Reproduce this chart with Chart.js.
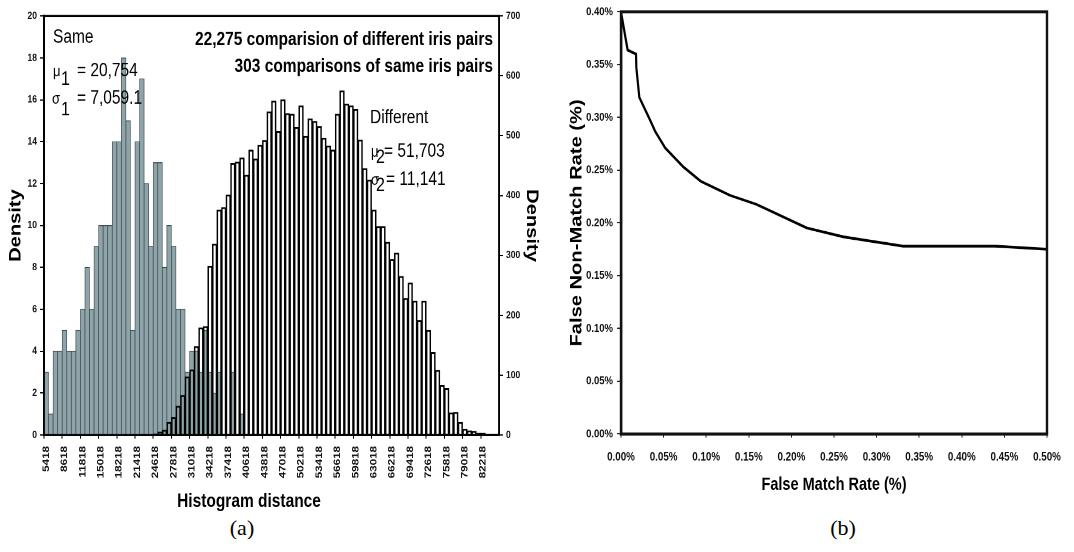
<!DOCTYPE html>
<html>
<head>
<meta charset="utf-8">
<script src="https://cdn.jsdelivr.net/npm/chart.js@4.4.0/dist/chart.umd.min.js"></script>
<style>
  body { margin: 0; background: #fff; width: 1074px; height: 552px; position: relative; overflow: hidden; }
  /* the original figure is a bitmap stretched vertically, so both charts are too */
  .stretch { position: absolute; top: 0; transform-origin: 0 0; transform: scaleY(1.22); }
  .caption { position: absolute; top: 515px; font-family: 'Liberation Serif', 'DejaVu Serif', serif; font-size: 22px; transform: translateX(-50%); }
</style>
</head>
<body>
<div class="stretch" style="left:0"><canvas id="histo" width="540" height="422"></canvas></div>
<div class="stretch" style="left:540px"><canvas id="roc" width="534" height="422"></canvas></div>
<div class="caption" style="left:242px">(a)</div>
<div class="caption" style="left:843px">(b)</div>
<script>
//FONTS AND VERTICAL STRETCH
const SANS = "'Liberation Sans', Arial, sans-serif";
const K = 1.22;
const u = (v) => v / K;

//HISTOGRAM BINS (distance, bin of 800)
const binStart = 5418;
const binWidth = 800;
const binCount = 100;

//SAME IRIS PAIRS (left axis)
const sameCounts = [
  3, 1, 4, 4, 5, 4, 4, 5, 6, 8,
  6, 9, 10, 10, 10, 14, 14, 18, 15, 5,
  14, 17, 12, 9, 13, 13, 8, 10, 9, 6,
  6, 3, 4, 4, 3, 5, 3, 2, 3, 0,
  0, 3, 0, 1, 0, 0, 0, 0, 0, 0,
  0, 0, 0, 0, 0, 0, 0, 0, 0, 0,
  0, 0, 0, 0, 0, 0, 0, 0, 0, 0,
  0, 0, 0, 0, 0, 0, 0, 0, 0, 0,
  0, 0, 0, 0, 0, 0, 0, 0, 0, 0,
  0, 0, 0, 0, 0, 0, 0, 0, 0, 0
];

//DIFFERENT IRIS PAIRS (right axis)
const differentCounts = [
  0, 0, 0, 0, 0, 0, 0, 0, 0, 0,
  0, 0, 0, 0, 0, 0, 0, 0, 0, 0,
  0, 0, 0, 0, 2, 5, 8, 21, 29, 48,
  66, 97, 109, 148, 179, 181, 282, 319, 376, 380,
  401, 454, 456, 463, 434, 476, 461, 484, 492, 540,
  558, 507, 560, 537, 536, 514, 550, 499, 528, 524,
  515, 496, 483, 476, 536, 575, 553, 550, 544, 493,
  445, 426, 376, 348, 348, 322, 293, 304, 265, 228,
  254, 224, 191, 224, 175, 138, 108, 83, 78, 37,
  38, 21, 10, 7, 6, 3, 3, 1, 0, 0
];

//ROC CURVE (%)
const fmrValues = [0, 0.0078, 0.0176, 0.018, 0.0215, 0.0344, 0.0402, 0.052, 0.0734, 0.0938, 0.128, 0.159, 0.218, 0.261, 0.331, 0.439, 0.50];
const fnmrValues = [0.400, 0.3638, 0.360, 0.3474, 0.319, 0.297, 0.2866, 0.2709, 0.2529, 0.2394, 0.2261, 0.2176, 0.1953, 0.1868, 0.178, 0.178, 0.1751];

const distLabels = [];
for (let i = 0; i < binCount; i++) distLabels.push(String(binStart + i * binWidth));

//BOX AROUND THE PLOT AREA
const framePlugin = {
  id: 'frame',
  afterDraw(chart, args, opts) {
    const { ctx, chartArea: a } = chart;
    ctx.save();
    ctx.strokeStyle = opts.color || '#000';
    ctx.lineWidth = opts.width || 2;
    ctx.strokeRect(a.left, a.top, a.right - a.left, a.bottom - a.top);
    ctx.restore();
  }
};

//SYMBOL WITH SUBSCRIPT, THEN THE VALUE
function drawStat(ctx, x, y, sym, sub, rest, subDx, subDy, restDx) {
  ctx.font = '13px ' + SANS;
  ctx.fillText(sym, x, y);
  ctx.font = '16px ' + SANS;
  ctx.fillText(sub, x + subDx, y + u(subDy));
  ctx.font = '15.5px ' + SANS;
  ctx.fillText(rest, x + restDx, y);
}

//TEXTS INSIDE THE HISTOGRAM
const notesPlugin = {
  id: 'notes',
  afterDatasetsDraw(chart) {
    const ctx = chart.ctx;
    const a = chart.chartArea;
    ctx.save();
    ctx.fillStyle = '#000';
    ctx.textBaseline = 'alphabetic';
    ctx.textAlign = 'left';
    ctx.font = '15.5px ' + SANS;
    ctx.fillText('Same', a.left + 9, a.top + u(27));
    drawStat(ctx, a.left + 9, a.top + u(60), 'μ', '1', '= 20,754', 8, 9, 24);
    drawStat(ctx, a.left + 8, a.top + u(88), 'σ', '1', '= 7,059.1', 9, 11, 25);
    ctx.font = '15.5px ' + SANS;
    ctx.fillText('Different', a.left + 326, a.top + u(107));
    drawStat(ctx, a.left + 327, a.top + u(141), 'μ', '2', '= 51,703', 5, 6, 13);
    drawStat(ctx, a.left + 327, a.top + u(169), 'σ', '2', '= 11,141', 5, 6, 15);

    ctx.textAlign = 'right';
    ctx.font = 'bold 15.5px ' + SANS;
    ctx.fillText('22,275 comparision of different iris pairs', a.right - 6, a.top + u(29));
    ctx.fillText('303 comparisons of same iris pairs', a.right - 6, a.top + u(56));

    ctx.textAlign = 'center';
    ctx.font = 'bold 15.5px ' + SANS;
    ctx.fillText('Histogram distance', a.left + 205, a.bottom + u(72));
    ctx.restore();
  }
};

//HISTOGRAM (a)
function handleHistogram() {
  const cvx = document.getElementById('histo');
  let dados = {
    labels: distLabels,
    datasets: [{
      label: 'Different',
      data: differentCounts,
      yAxisID: 'y2',
      backgroundColor: 'rgba(255,255,255,0)',
      borderColor: '#000',
      borderWidth: 0.85,
      grouped: false,
      barPercentage: 1,
      categoryPercentage: 1,
      order: 1
    }, {
      label: 'Same',
      data: sameCounts,
      yAxisID: 'y',
      backgroundColor: '#8fa4a9',
      borderColor: '#3a4a50',
      borderWidth: 0.7,
      grouped: false,
      barPercentage: 1,
      categoryPercentage: 1,
      order: 2
    }]
  };

  let options = {
    responsive: false,
    animation: false,
    devicePixelRatio: 2,
    layout: { padding: { top: u(16) } },
    plugins: { legend: { display: false }, tooltip: { enabled: false }, frame: { color: '#000', width: 1.8 } },
    scales: {
      x: {
        afterFit: (s) => { s.height = 422 - u(435); },
        grid: {
          drawOnChartArea: false,
          tickLength: 3,
          color: (c) => (c.index % 4 === 0 ? '#000' : 'rgba(0,0,0,0)')
        },
        border: { color: '#000', width: 1.8 },
        ticks: {
          autoSkip: false,
          minRotation: 90,
          maxRotation: 90,
          padding: 6,
          color: '#111',
          font: { family: SANS, size: 9.5, weight: 'bold' },
          callback: function (v, i) { return i % 4 === 0 ? this.getLabelForValue(v) : ''; }
        }
      },
      y: {
        position: 'left',
        min: 0,
        max: 20,
        afterFit: (s) => { s.width = 44; },
        grid: { drawOnChartArea: false, tickLength: 4, color: '#000' },
        border: { color: '#000', width: 2 },
        ticks: { stepSize: 2, padding: 3, color: '#111', font: { family: SANS, size: 8.5, weight: 'bold' } },
        title: { display: true, text: 'Density', color: '#000', padding: { top: 6, bottom: 0 }, font: { family: SANS, size: 16.5, weight: 'bold', lineHeight: 1.2 } }
      },
      y2: {
        position: 'right',
        min: 0,
        max: 700,
        afterFit: (s) => { s.width = 41; },
        grid: { drawOnChartArea: false, tickLength: 4, color: '#000' },
        border: { color: '#000', width: 1.5 },
        ticks: { stepSize: 100, padding: 3, color: '#111', font: { family: SANS, size: 8.5, weight: 'bold' } },
        title: { display: true, text: 'Density', color: '#000', padding: { top: 0, bottom: 0 }, font: { family: SANS, size: 16.5, weight: 'bold', lineHeight: 1 } }
      }
    }
  };

  new Chart(cvx, { type: 'bar', data: dados, options: options, plugins: [framePlugin, notesPlugin] });
}

//ROC CURVE (b)
function handleRocCurve() {
  const cvx = document.getElementById('roc');
  const pontos = fmrValues.map((v, i) => ({ x: v, y: fnmrValues[i] }));
  const percent = (v) => v.toFixed(2) + '%';

  let dados = {
    datasets: [{
      data: pontos,
      borderColor: '#000',
      borderWidth: 2.2,
      pointRadius: 0,
      tension: 0,
      fill: false
    }]
  };

  let options = {
    responsive: false,
    animation: false,
    devicePixelRatio: 2,
    layout: { padding: { top: u(11), right: 27 } },
    plugins: { legend: { display: false }, tooltip: { enabled: false }, frame: { color: '#111', width: 2.4 } },
    scales: {
      x: {
        type: 'linear',
        min: 0,
        max: 0.5,
        afterFit: (s) => { s.height = 422 - u(434); },
        grid: { drawOnChartArea: false, tickLength: 3, color: '#1c2b26' },
        border: { color: '#1c2b26', width: 2.4 },
        ticks: { stepSize: 0.05, padding: 10, maxRotation: 0, color: '#111', font: { family: SANS, size: 9.8, weight: 'bold' }, callback: percent },
        title: { display: true, text: 'False Match Rate (%)', color: '#000', padding: { top: 0, bottom: 16 }, font: { family: SANS, size: 14.5, weight: 'bold', lineHeight: 1.2 } }
      },
      y: {
        min: 0,
        max: 0.4,
        afterFit: (s) => { s.width = 81; },
        grid: { drawOnChartArea: false, tickLength: 4, color: '#1c2b26' },
        border: { color: '#1c2b26', width: 2.4 },
        ticks: { stepSize: 0.05, padding: 4, color: '#111', font: { family: SANS, size: 9.5, weight: 'bold' }, callback: percent },
        title: { display: true, text: 'False Non-Match Rate (%)', color: '#000', padding: { top: 27, bottom: 0 }, font: { family: SANS, size: 16.5, weight: 'bold', lineHeight: 1.2 } }
      }
    }
  };

  new Chart(cvx, { type: 'line', data: dados, options: options, plugins: [framePlugin] });
}

document.addEventListener('DOMContentLoaded', () => {
  handleHistogram();
  handleRocCurve();
});
</script>
</body>
</html>
